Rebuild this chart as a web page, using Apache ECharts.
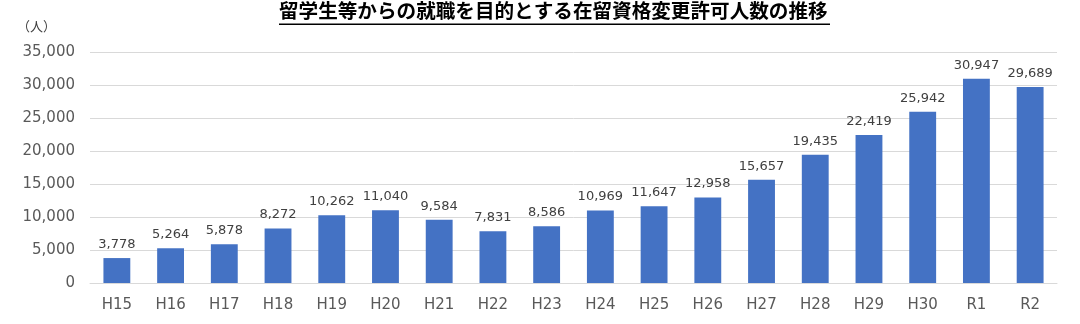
<!DOCTYPE html>
<html>
<head>
<meta charset="utf-8">
<script src="https://cdn.jsdelivr.net/npm/echarts@6/dist/echarts.min.js"></script>
<style>
  html, body { margin: 0; padding: 0; background: #ffffff; }
  #chart { width: 1080px; height: 324px; }
</style>
</head>
<body>
<div id="chart"></div>
<script>
// Fiscal years (Heisei / Reiwa)
const categories = ['H15', 'H16', 'H17', 'H18', 'H19', 'H20', 'H21', 'H22', 'H23',
  'H24', 'H25', 'H26', 'H27', 'H28', 'H29', 'H30', 'R1', 'R2'];
// Approved status changes for employment (persons)
const permits = [3778, 5264, 5878, 8272, 10262, 11040, 9584, 7831, 8586,
  10969, 11647, 12958, 15657, 19435, 22419, 25942, 30947, 29689];
const titleText = '留学生等からの就職を目的とする在留資格変更許可人数の推移';
const unitText = '（人）';

const font = '"DejaVu Sans", Verdana, sans-serif';
const chart = echarts.init(document.getElementById('chart'), null, { renderer: 'canvas' });

chart.setOption({
  animation: false,
  backgroundColor: '#ffffff',
  title: {
    text: titleText,
    left: 279,
    top: -1,
    padding: 0,
    textStyle: {
      fontFamily: '"Noto Sans CJK JP", sans-serif',
      fontSize: 19.6,
      fontWeight: 'bold',
      color: '#000000',
      lineHeight: 24
    }
  },
  graphic: [
    {
      type: 'text',
      left: 17,
      top: 20,
      style: {
        text: unitText,
        font: '13px "Noto Sans CJK JP", sans-serif',
        fill: '#404040'
      }
    },
    {
      // underline beneath the title
      type: 'rect',
      shape: { x: 279, y: 23.5, width: 551, height: 1.5 },
      style: { fill: '#000000' }
    }
  ],
  grid: { left: 90, right: 23, top: 52, bottom: 41, containLabel: false },
  xAxis: {
    type: 'category',
    data: categories,
    axisTick: { show: false },
    axisLine: { lineStyle: { color: '#d9d9d9', width: 1 } },
    axisLabel: { color: '#595959', fontSize: 15, fontFamily: font, margin: 15 }
  },
  yAxis: {
    type: 'value',
    min: 0,
    max: 35000,
    interval: 5000,
    axisLine: { show: false },
    axisTick: { show: false },
    splitLine: { lineStyle: { color: '#d9d9d9', width: 1 } },
    axisLabel: {
      color: '#595959',
      fontSize: 15,
      fontFamily: font,
      margin: 15,
      formatter: v => v.toLocaleString('en-US')
    }
  },
  series: [{
    type: 'bar',
    data: permits,
    barWidth: '50%',
    itemStyle: { color: '#4472C4' },
    label: {
      show: true,
      position: 'top',
      distance: 7,
      color: '#404040',
      fontSize: 13,
      fontFamily: font,
      formatter: p => p.value.toLocaleString('en-US')
    }
  }]
});
</script>
</body>
</html>
